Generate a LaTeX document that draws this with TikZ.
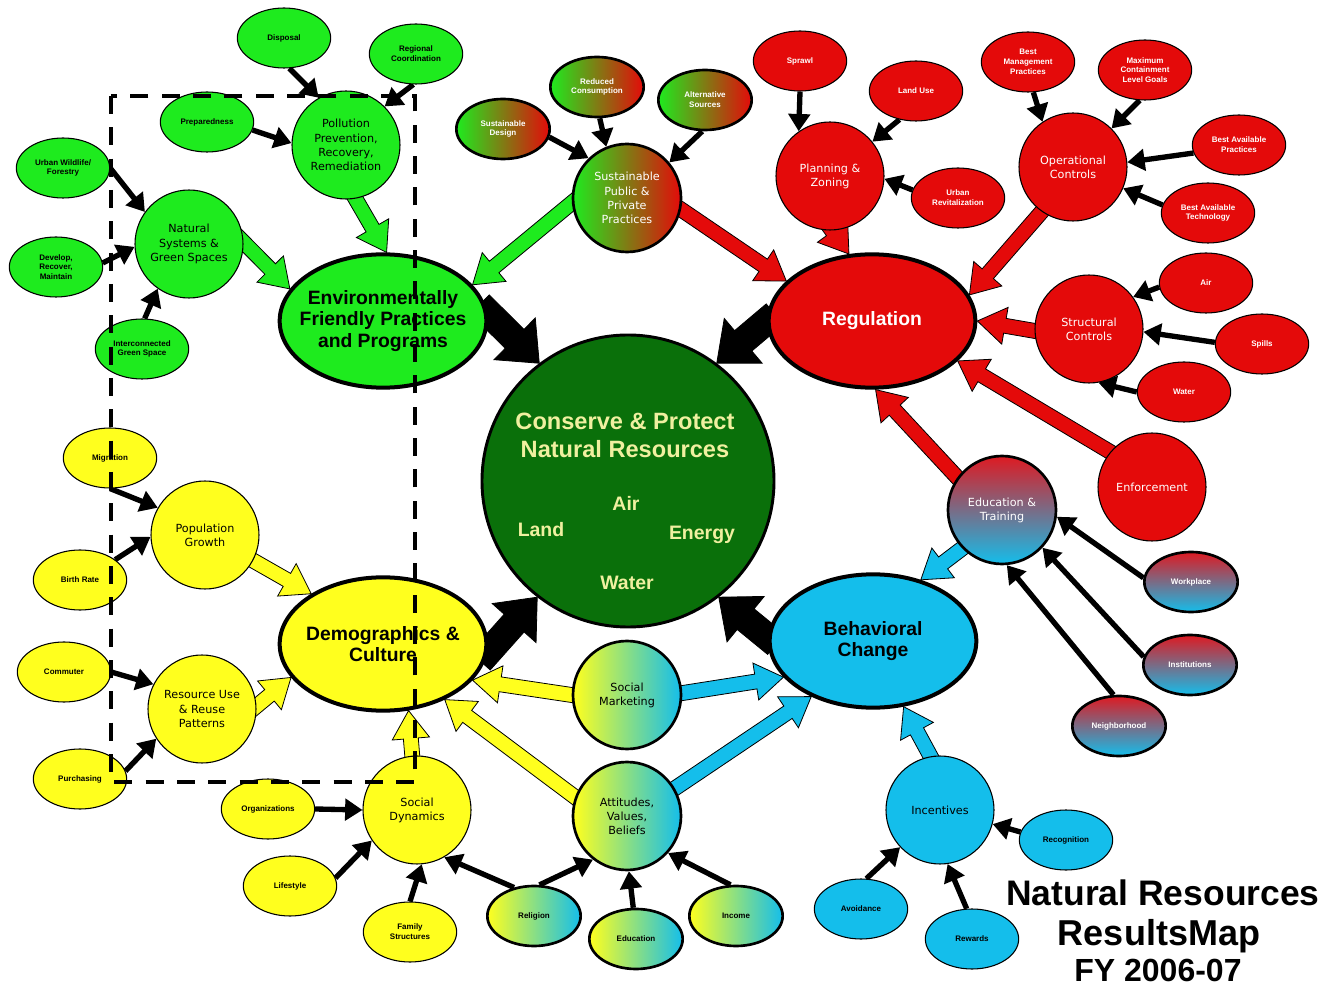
\documentclass[tikz,border=0pt]{standalone}
\usepackage{fontspec}
\setmainfont{Liberation Sans}
\newfontfamily\dejavu{DejaVu Sans}
\usetikzlibrary{shapes.geometric,arrows.meta,calc}
\definecolor{cgreen}{RGB}{30,235,30}
\definecolor{cred}{RGB}{228,10,10}
\definecolor{cyel}{RGB}{255,255,30}
\definecolor{cblue}{RGB}{20,190,235}
\definecolor{cdark}{RGB}{10,112,10}
\definecolor{ctext}{RGB}{240,240,160}
\definecolor{cedured}{RGB}{222,26,34}
\pgfdeclarelayer{back}\pgfdeclarelayer{bg}\pgfsetlayers{back,bg,main}
\newcommand\fsm{\fontsize{6}{7.3}\selectfont\bfseries}
\newcommand\fmd{\dejavu\fontsize{8.4}{10.6}\selectfont}
\newcommand\fbg{\fontsize{14.5}{16.3}\selectfont\bfseries}
\newcommand\blockarr[6]{%
  \coordinate (bAz) at #2;
  \coordinate (bB) at #3;
  \coordinate (bA) at ($(bAz)!-8pt!(bB)$);
  \coordinate (bC) at ($(bB)!#6!(bA)$);
  \filldraw[fill=#1, draw=black, line width=0.6pt]
    ($(bA)!#4!90:(bB)$) -- ($(bC)!#4!90:(bB)$) -- ($(bC)!#5!90:(bB)$) -- (bB)
    -- ($(bC)!#5!-90:(bB)$) -- ($(bC)!#4!-90:(bB)$) -- ($(bA)!#4!-90:(bB)$) -- cycle;}
\newcommand\carr[3]{\blockarr{#1}{#2}{#3}{5.6pt}{14pt}{21pt}}
\newcommand\karr[2]{\blockarr{black}{#1}{#2}{10pt}{22pt}{26pt}}
\tikzset{
  smallnode/.style={ellipse, draw=black, line width=0.8pt, minimum width=70pt, minimum height=45pt, inner sep=0pt, align=center, font=\fsm},
  gradsmall/.style={smallnode, line width=2pt},
  mednode/.style={circle, draw=black, line width=0.8pt, minimum size=81pt, inner sep=0pt, align=center, font=\fmd},
  gradmed/.style={mednode, line width=2pt},
  bignode/.style={ellipse, draw=black, line width=3pt, minimum width=155pt, minimum height=100pt, inner xsep=-25pt, inner ysep=0pt, align=center, font=\fbg},
  gfill/.style={fill=cgreen},
  rfill/.style={fill=cred, text=white},
  yfill/.style={fill=cyel},
  bfill/.style={fill=cblue},
  grgrad/.style={left color=cgreen, right color=cred, text=white},
  rbgrad/.style={top color=cedured, bottom color=cblue, text=white},
  ybgrad/.style={left color=cyel, right color=cblue},
  thinarr/.style={draw=black, line width=4pt, -{Triangle[length=13pt,width=16pt]}},
  ctr/.style={text=ctext, font=\fontsize{14.6}{17}\selectfont\bfseries},
  titletext/.style={anchor=base, font=\fontsize{26.6}{30}\selectfont\bfseries}
}
\begin{document}
\begin{tikzpicture}[x=0.75pt,y=-0.75pt]
\begin{pgfonlayer}{back}
\fill[white] (0,0) rectangle (1322,987);
\end{pgfonlayer}
\useasboundingbox (0,0) rectangle (1322,987);

% green
\node[smallnode,gfill] (disp) at (284,38) {Disposal};
\node[smallnode,gfill] (rcoord) at (416,54) {Regional\\Coordination};
\node[smallnode,gfill] (prep) at (207,122) {Preparedness};
\node[mednode,gfill] (poll) at (346,145) {Pollution\\Prevention,\\Recovery,\\Remediation};
\node[smallnode,gfill] (urb) at (63,168) {Urban Wildlife/\\Forestry};
\node[mednode,gfill] (nat) at (189,244) {Natural\\Systems \&\\Green Spaces};
\node[smallnode,gfill] (dev) at (56,267) {Develop,\\Recover,\\Maintain};
\node[smallnode,gfill] (icg) at (142,349) {Interconnected\\Green Space};
\node[bignode,gfill] (env) at (383,321) {Environmentally\\Friendly Practices\\and Programs};
% sustainable
\node[gradsmall,grgrad] (sdes) at (503,129) {Sustainable\\Design};
\node[gradsmall,grgrad] (rcon) at (597,87) {Reduced\\Consumption};
\node[gradsmall,grgrad] (alts) at (705,100) {Alternative\\Sources};
\node[gradmed,grgrad] (sus) at (627,198) {Sustainable\\Public \&\\Private\\Practices};
% red
\node[smallnode,rfill] (spr) at (800,61) {Sprawl};
\node[smallnode,rfill] (land) at (916,91) {Land Use};
\node[mednode,rfill] (plan) at (830,176) {Planning \&\\Zoning};
\node[smallnode,rfill] (urev) at (958,198) {Urban\\Revitalization};
\node[smallnode,rfill] (bmp) at (1028,62) {Best\\Management\\Practices};
\node[smallnode,rfill] (mcl) at (1145,70) {Maximum\\Containment\\Level Goals};
\node[mednode,rfill] (op) at (1073,167) {Operational\\Controls};
\node[smallnode,rfill] (bap) at (1239,145) {Best Available\\Practices};
\node[smallnode,rfill] (bat) at (1208,213) {Best Available\\Technology};
\node[bignode,rfill] (reg) at (872,321) {Regulation};
\node[mednode,rfill] (str) at (1089,329) {Structural\\Controls};
\node[smallnode,rfill] (sair) at (1206,283) {Air};
\node[smallnode,rfill] (spl) at (1262,344) {Spills};
\node[smallnode,rfill] (swat) at (1184,392) {Water};
\node[mednode,rfill] (enf) at (1152,487) {Enforcement};
\node[gradmed,rbgrad] (edu) at (1002,510) {Education \&\\Training};
\node[gradsmall,rbgrad] (work) at (1191,582) {Workplace};
\node[gradsmall,rbgrad] (inst) at (1190,665) {Institutions};
\node[gradsmall,rbgrad] (nbh) at (1119,726) {Neighborhood};
% blue
\node[bignode,bfill] (beh) at (873,641) {Behavioral\\Change};
\node[mednode,bfill] (inc) at (940,810) {Incentives};
\node[smallnode,bfill] (rec) at (1066,840) {Recognition};
\node[smallnode,bfill] (avo) at (861,909) {Avoidance};
\node[smallnode,bfill] (rew) at (972,939) {Rewards};
% yellow
\node[smallnode,yfill] (mig) at (110,458) {Migration};
\node[mednode,yfill] (pop) at (205,535) {Population\\Growth};
\node[smallnode,yfill] (br) at (80,580) {Birth Rate};
\node[bignode,yfill] (dem) at (383,644) {Demographics \&\\Culture};
\node[smallnode,yfill] (com) at (64,672) {Commuter};
\node[mednode,yfill] (res) at (202,709) {Resource Use\\\& Reuse\\Patterns};
\node[smallnode,yfill] (pur) at (80,779) {Purchasing};
\node[smallnode,yfill] (org) at (268,809) {Organizations};
\node[mednode,yfill] (soc) at (417,810) {Social\\Dynamics};
\node[smallnode,yfill] (life) at (290,886) {Lifestyle};
\node[smallnode,yfill] (fam) at (410,932) {Family\\Structures};
% yellow-blue
\node[gradmed,ybgrad] (smk) at (627,695) {Social\\Marketing};
\node[gradmed,ybgrad] (att) at (627,816) {Attitudes,\\Values,\\Beliefs};
\node[gradsmall,ybgrad] (rel) at (534,916) {Religion};
\node[gradsmall,ybgrad] (edu2) at (636,939) {Education};
\node[gradsmall,ybgrad] (inc2) at (736,916) {Income};
% centre
\node[circle, draw=black, line width=2.2pt, fill=cdark, minimum size=219pt, inner sep=0pt] (cen) at (628,481) {};
\node[text=ctext, align=center, font=\fontsize{17.7}{21}\selectfont\bfseries] (ctitle) at (625,435) {Conserve \& Protect\\Natural Resources};
\node[ctr] (wair) at (626,503) {Air};
\node[ctr] (wland) at (541,530) {Land};
\node[ctr] (wenergy) at (702,535) {Energy};
\node[ctr] (wwater) at (627,583) {Water};

\begin{pgfonlayer}{bg}
% block arrows
\carr{cgreen}{(poll.-80)}{(env.87)}
\carr{cgreen}{(nat.2)}{(env.161)}
\carr{cgreen}{(sus.185)}{(env.22)}
\carr{cred}{(sus.-12)}{(reg.155)}
\carr{cred}{(plan.-88)}{(reg.109)}
\carr{cred}{(op.235)}{(reg.15)}
\carr{cred}{(str.182)}{(reg.0)}
\carr{cred}{(enf.140)}{(reg.-25)}
\carr{cred}{(edu.144)}{(reg.-87)}
\carr{cblue}{(edu.224)}{(beh.52)}
\carr{cyel}{(pop.-28)}{(dem.145)}
\carr{cyel}{(res.3)}{(dem.200)}
\carr{cyel}{(soc.95)}{(dem.-69)}
\carr{cyel}{(smk.180)}{(dem.-22)}
\carr{cyel}{(att.160)}{(dem.-42)}
\carr{cblue}{(smk.2)}{(beh.202)}
\carr{cblue}{(att.30)}{(beh.222)}
\carr{cblue}{(inc.100)}{(beh.-65)}
\karr{(env.5)}{(cen.127)}
\karr{(reg.180)}{(cen.53)}
\karr{(dem.-5)}{(cen.232)}
\karr{(beh.178)}{(cen.-52)}
% thin arrows
\draw[thinarr] (disp.-80) -- (poll.120);
\draw[thinarr] (rcoord.-95) -- (poll.45);
\draw[thinarr] (prep.-10) -- (poll.178);
\draw[thinarr] (urb.0) -- (nat.144);
\draw[thinarr] (dev.5) -- (nat.183);
\draw[thinarr] (icg.85) -- (nat.235);
\draw[thinarr] (sdes.-10) -- (sus.134);
\draw[thinarr] (rcon.-85) -- (sus.112);
\draw[thinarr] (alts.-95) -- (sus.40);
\draw[thinarr] (spr.-90) -- (plan.125);
\draw[thinarr] (land.-120) -- (plan.39);
\draw[thinarr] (urev.170) -- (plan.-3);
\draw[thinarr] (bmp.-80) -- (op.124);
\draw[thinarr] (mcl.-100) -- (op.45);
\draw[thinarr] (bap.190) -- (op.5);
\draw[thinarr] (bat.170) -- (op.-23);
\draw[thinarr] (sair.185) -- (str.36);
\draw[thinarr] (spl.178) -- (str.-3);
\draw[thinarr] (swat.180) -- (str.-80);
\draw[thinarr] (work.175) -- (edu.-7);
\draw[thinarr] (inst.170) -- (edu.-43);
\draw[thinarr] (nbh.100) -- (edu.-85);
\draw[thinarr] (mig.-90) -- (pop.150);
\draw[thinarr] (br.30) -- (pop.182);
\draw[thinarr] (com.0) -- (res.153);
\draw[thinarr] (pur.10) -- (res.213);
\draw[thinarr] (org.0) -- (soc.180);
\draw[thinarr] (life.10) -- (soc.214);
\draw[thinarr] (fam.90) -- (soc.-85);
\draw[thinarr] (rel.125) -- (soc.-60);
\draw[thinarr] (rel.80) -- (att.232);
\draw[thinarr] (edu2.95) -- (att.-88);
\draw[thinarr] (inc2.100) -- (att.-42);
\draw[thinarr] (rec.170) -- (inc.-15);
\draw[thinarr] (avo.80) -- (inc.223);
\draw[thinarr] (rew.100) -- (inc.-82);
\end{pgfonlayer}

% dashed frame
\draw[line width=3.2pt, dash pattern=on 13.5pt off 10pt] (111,96) rectangle (415,782);

% title
\node[titletext] (t1) at (1163,905) {Natural Resources};
\node[titletext, font=\fontsize{27}{30}\selectfont\bfseries] (t2) at (1159,945) {ResultsMap};
\node[titletext, font=\fontsize{24}{28}\selectfont\bfseries] (t3) at (1158,981) {FY 2006-07};
\end{tikzpicture}
\end{document}
